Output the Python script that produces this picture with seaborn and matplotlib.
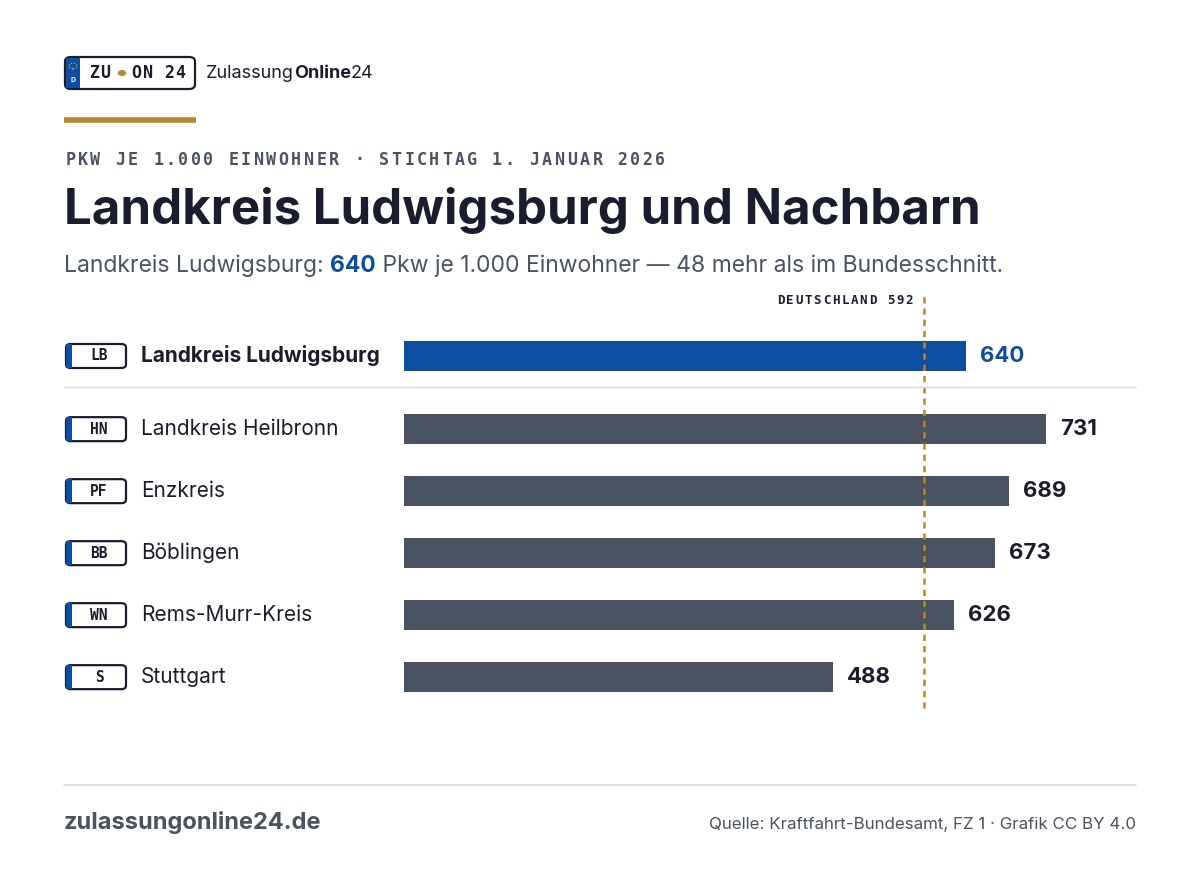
import matplotlib
matplotlib.use("Agg")
import matplotlib.pyplot as plt
import seaborn as sns
import pandas as pd
from matplotlib.patches import FancyBboxPatch, Rectangle, Circle

plates = ["LB", "HN", "PF", "BB", "WN", "S"]
names = ["Landkreis Ludwigsburg", "Landkreis Heilbronn", "Enzkreis", "Böblingen", "Rems-Murr-Kreis", "Stuttgart"]
values = [640, 731, 689, 673, 626, 488]
national = 592
positions = [0, 1.18, 2.18, 3.18, 4.18, 5.18]
groups = ["focus", "other", "other", "other", "other", "other"]

BLUE = "#0b4ea2"; GREY = "#4a5362"; DARK = "#1a1d2e"; GOLD = "#b8862b"; SUB = "#4a5362"

sns.set_theme(style="white")
plt.rcParams['font.family'] = ['Inter', 'DejaVu Sans']
MONO = ['DejaVu Sans Mono']

W, H = 1200, 892
fig = plt.figure(figsize=(12, 8.92), dpi=100)
fig.patch.set_facecolor("white")

def fx(x): return x / W
def fy(y): return 1 - y / H

def spaced(x0, y, s, adv, **kw):
    for i, ch in enumerate(s):
        fig.text(fx(x0 + i * adv + adv / 2), fy(y), ch, family=MONO, ha="center", va="center", **kw)

ppu = 642 / 731
ax = fig.add_axes([fx(404), fy(710), (1136 - 404) / W, 420 / H])
df = pd.DataFrame({"pos": positions, "val": values, "grp": groups})
sns.barplot(data=df, x="val", y="pos", hue="grp", orient="h", native_scale=True,
            palette={"focus": BLUE, "other": GREY}, width=0.48, legend=False, ax=ax,
            saturation=1, linewidth=0)
ax.set_xlim(0, (1136 - 404) / ppu)
ax.set_ylim((710 - 356) / 62, (290 - 356) / 62)
ax.axis("off")
ax.axvline(national, ymin=2/420, ymax=418/420, color=GOLD, ls=(0, (2.5, 2)), lw=1.8)
lab = f"DEUTSCHLAND {national}"
spaced(914 - len(lab) * 9.2, 301, lab, 9.2, fontsize=9, fontweight="bold", color=DARK)
for p, v, g in zip(positions, values, groups):
    ax.text(v + 16, p, str(v), fontsize=16, fontweight="bold",
            color=BLUE if g == "focus" else DARK, va="center", ha="left")

for i, (p, pl, nm) in enumerate(zip(positions, plates, names)):
    yc = 356 + p * 62
    fig.patches.append(FancyBboxPatch((fx(66), fy(yc + 12)), 60 / W, 24 / H,
                        boxstyle="round,pad=0,rounding_size=0.004", transform=fig.transFigure,
                        fc="white", ec=DARK, lw=1.6))
    fig.patches.append(Rectangle((fx(66), fy(yc + 12)), 6 / W, 24 / H, transform=fig.transFigure,
                                 fc=BLUE, ec="none"))
    fig.text(fx(99), fy(yc), pl, family=MONO, fontsize=10.5, fontweight="bold", color=DARK,
             ha="center", va="center")
    fig.text(fx(141), fy(yc), nm, fontsize=15, color=DARK, ha="left", va="center",
             fontweight="bold" if i == 0 else "normal")

fig.add_artist(plt.Line2D([fx(64), fx(1136)], [fy(387), fy(387)], color="#d9d9d2", lw=1))
fig.add_artist(plt.Line2D([fx(64), fx(1136)], [fy(785), fy(785)], color="#d9d9d2", lw=1.2))
fig.add_artist(plt.Line2D([fx(64), fx(196)], [fy(120), fy(120)], color=GOLD, lw=4, solid_capstyle="butt"))

fig.patches.append(FancyBboxPatch((fx(65), fy(89)), 130 / W, 32 / H,
                                  boxstyle="round,pad=0,rounding_size=0.005", transform=fig.transFigure,
                                  fc="white", ec=DARK, lw=1.6))
fig.patches.append(Rectangle((fx(66), fy(88)), 14 / W, 30 / H, transform=fig.transFigure, fc=BLUE, ec="none"))
fig.patches.append(Circle((fx(73), fy(66)), 0.0033, transform=fig.transFigure, fc="none", ec="#e8c040", lw=0.8, ls=":"))
fig.text(fx(73), fy(80), "D", fontsize=5, color="white", fontweight="bold", ha="center", va="center")
spaced(89, 73, "ZU", 11, fontsize=12, fontweight="bold", color=DARK)
fig.patches.append(Circle((fx(122), fy(73)), 0.0034, transform=fig.transFigure, fc=GOLD, ec="none"))
spaced(131, 73, "ON 24", 11, fontsize=12, fontweight="bold", color=DARK)
r = fig.canvas.get_renderer()
t = fig.text(fx(206), fy(73), "Zulassung", fontsize=13, color=DARK, ha="left", va="center")
bb = t.get_window_extent(renderer=r)
t2 = fig.text(bb.x1 / W, fy(73), "Online", fontsize=13, fontweight="bold", color=DARK, ha="left", va="center")
bb2 = t2.get_window_extent(renderer=r)
fig.text(bb2.x1 / W, fy(73), "24", fontsize=13, color=DARK, ha="left", va="center")

spaced(64, 160, "PKW JE 1.000 EINWOHNER · STICHTAG 1. JANUAR 2026", 12.55,
       fontsize=12, fontweight="bold", color=SUB)
fig.text(fx(64), fy(210), "Landkreis Ludwigsburg und Nachbarn", fontsize=35.4, fontweight="bold",
         color=DARK, ha="left", va="center")
s1 = fig.text(fx(64), fy(266), "Landkreis Ludwigsburg: ", fontsize=16.5, color=SUB, ha="left", va="center")
b = s1.get_window_extent(renderer=r)
s2 = fig.text(b.x1 / W, fy(266), "640", fontsize=16.5, fontweight="bold", color=BLUE, ha="left", va="center")
b = s2.get_window_extent(renderer=r)
fig.text(b.x1 / W, fy(266), " Pkw je 1.000 Einwohner — 48 mehr als im Bundesschnitt.", fontsize=16.5,
         color=SUB, ha="left", va="center")

fig.text(fx(64), fy(822), "zulassungonline24.de", fontsize=17, fontweight="bold", color=SUB, ha="left", va="center")
fig.text(fx(1136), fy(824), "Quelle: Kraftfahrt-Bundesamt, FZ 1 · Grafik CC BY 4.0", fontsize=12.2,
         color=SUB, ha="right", va="center")

fig.savefig("out.png", dpi=100, facecolor="white")
